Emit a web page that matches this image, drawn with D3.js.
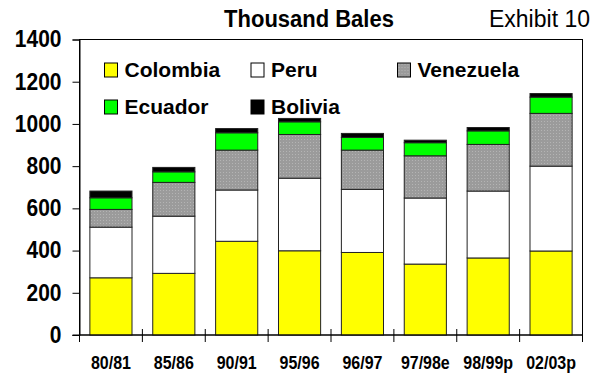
<!DOCTYPE html>
<html>
<head>
<meta charset="utf-8">
<script src="https://cdn.jsdelivr.net/npm/d3@7"></script>
<style>
  html, body { margin: 0; padding: 0; background: #fff; }
  svg { display: block; font-family: "Liberation Sans", Arial, sans-serif; }
</style>
</head>
<body>
<svg id="chart" width="611" height="376"></svg>
<script>
// Cotton production by country, thousand bales
const categories = ["80/81", "85/86", "90/91", "95/96", "96/97", "97/98e", "98/99p", "02/03p"];
const colombia  = [271, 292, 444, 399, 391, 336, 365, 398];
const peru      = [240, 271, 243, 344, 299, 313, 317, 402];
const venezuela = [84, 160, 189, 207, 186, 200, 221, 250];
const ecuador   = [55, 50, 82, 60, 60, 62, 64, 77];
const bolivia   = [32, 21, 20, 16, 19, 12, 16, 17];
const yTicks    = [0, 200, 400, 600, 800, 1000, 1200, 1400];

const seriesNames = ["Colombia", "Peru", "Venezuela", "Ecuador", "Bolivia"];
const seriesValues = [colombia, peru, venezuela, ecuador, bolivia];

const svg = d3.select("#chart");

// Dotted grey fill used for Venezuela
const defs = svg.append("defs");
const pat = defs.append("pattern")
  .attr("id", "dots").attr("patternUnits", "userSpaceOnUse")
  .attr("width", 3).attr("height", 3);
pat.append("rect").attr("width", 3).attr("height", 3).attr("fill", "#9b9b9b");
pat.append("rect").attr("x", 1).attr("y", 1).attr("width", 1).attr("height", 1).attr("fill", "#b4b4b4");

const fills = {
  Colombia: "#ffff00",
  Peru: "#ffffff",
  Venezuela: "url(#dots)",
  Ecuador: "#00ff00",
  Bolivia: "#000000"
};

const plotLeft = 79.5, plotRight = 582.5, plotTop = 39.5, plotBottom = 335;
const stretch = "scale(1,1.1)"; // slightly tall lettering

const rows = categories.map((c, i) => {
  const r = { cat: c };
  seriesNames.forEach((s, j) => { r[s] = seriesValues[j][i]; });
  return r;
});
const stacked = d3.stack().keys(seriesNames)(rows);

const x = d3.scaleBand().domain(categories).range([plotLeft, plotRight])
  .paddingInner(0.33).paddingOuter(0.165);
const y = d3.scaleLinear().domain([0, 1400]).range([plotBottom, plotTop]);

// Plot frame
svg.append("rect")
  .attr("x", plotLeft).attr("y", plotTop)
  .attr("width", plotRight - plotLeft).attr("height", plotBottom - plotTop)
  .attr("fill", "none").attr("stroke", "#000").attr("stroke-width", 1);

// Stacked bars
svg.append("g").selectAll("g").data(stacked).join("g")
  .attr("fill", d => fills[d.key])
  .selectAll("rect").data(d => d).join("rect")
  .attr("x", d => x(d.data.cat))
  .attr("y", d => y(d[1]))
  .attr("width", x.bandwidth())
  .attr("height", d => y(d[0]) - y(d[1]))
  .attr("stroke", "#222").attr("stroke-width", 1);

// Y axis
const yAxis = svg.append("g")
  .attr("transform", `translate(${plotLeft},0)`)
  .call(d3.axisLeft(y).tickValues(yTicks).tickSize(7).tickPadding(11).tickFormat(d3.format("d")));
yAxis.select(".domain").attr("stroke", "#000");
yAxis.selectAll(".tick line").attr("stroke", "#000");
yAxis.selectAll("text")
  .attr("font-size", 21).attr("font-weight", "bold").attr("fill", "#000")
  .attr("font-family", "Liberation Sans, Arial, sans-serif")
  .attr("transform", stretch);

// X axis: baseline, category boundary ticks, labels
const xg = svg.append("g");
xg.append("line")
  .attr("x1", plotLeft - 7).attr("x2", plotRight)
  .attr("y1", plotBottom).attr("y2", plotBottom)
  .attr("stroke", "#000");
const step = x.step();
const bounds = d3.range(categories.length + 1).map(i => plotLeft + i * step);
xg.selectAll("line.tk").data(bounds).join("line")
  .attr("class", "tk")
  .attr("x1", d => d).attr("x2", d => d)
  .attr("y1", plotBottom - 6).attr("y2", plotBottom + 7)
  .attr("stroke", "#000");
xg.selectAll("text").data(categories).join("text")
  .attr("transform", d => `translate(${x(d) + x.bandwidth() / 2},369) ${stretch}`)
  .attr("text-anchor", "middle")
  .attr("font-size", 16).attr("font-weight", "bold")
  .text(d => d);

// Titles
svg.append("text")
  .attr("transform", `translate(309,26.5) ${stretch}`)
  .attr("text-anchor", "middle")
  .attr("font-size", 22).attr("font-weight", "bold")
  .text("Thousand Bales");
svg.append("text")
  .attr("transform", "translate(590,27)")
  .attr("text-anchor", "end")
  .attr("font-size", 23)
  .text("Exhibit 10");

// Legend
const legendPos = [
  { name: "Colombia",  x: 104.5, y: 63 },
  { name: "Peru",      x: 251,   y: 63 },
  { name: "Venezuela", x: 397.5, y: 63 },
  { name: "Ecuador",   x: 104.5, y: 100 },
  { name: "Bolivia",   x: 251,   y: 100 }
];
const lg = svg.append("g").selectAll("g").data(legendPos).join("g")
  .attr("transform", d => `translate(${d.x},${d.y})`);
lg.append("rect")
  .attr("width", 13).attr("height", 14)
  .attr("fill", d => fills[d.name])
  .attr("stroke", "#000").attr("stroke-width", 1);
lg.append("text")
  .attr("x", 20).attr("y", 14)
  .attr("font-size", 21).attr("font-weight", "bold")
  .text(d => d.name);
</script>
</body>
</html>
